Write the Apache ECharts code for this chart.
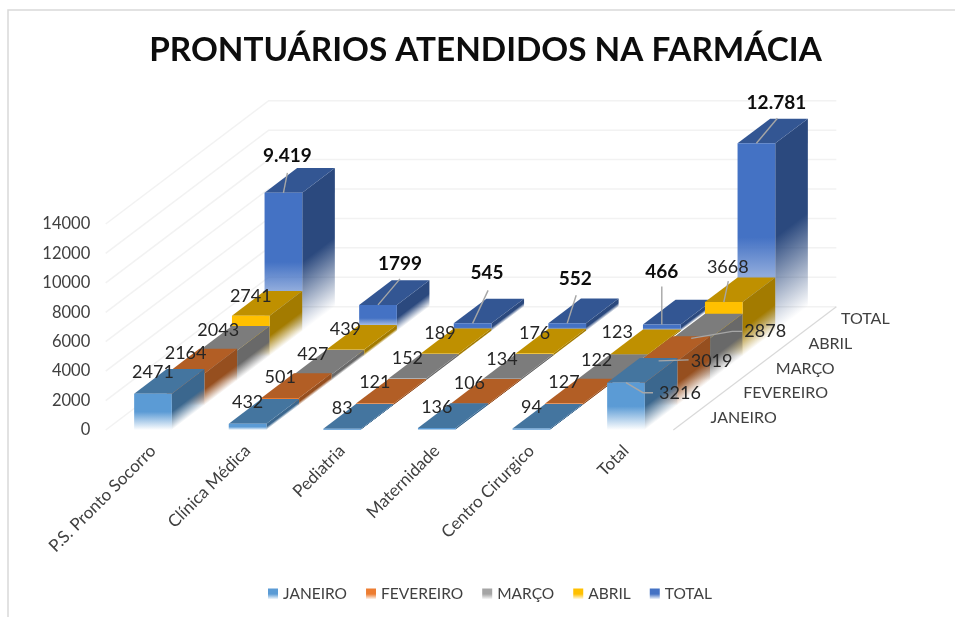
<!DOCTYPE html>
<html>
<head>
<meta charset="utf-8">
<style>html,body{margin:0;padding:0;background:#fff}#c{width:955px;height:617px}</style>
<script src="https://cdn.jsdelivr.net/npm/echarts@6/dist/echarts.min.js"></script>
</head>
<body>
<div id="c"></div>
<script>
// ---- data ----
const categories = ['P.S. Pronto Socorro', 'Clínica Médica', 'Pediatria', 'Maternidade', 'Centro Cirurgico', 'Total'];
const rowNames = ['JANEIRO', 'FEVEREIRO', 'MARÇO', 'ABRIL', 'TOTAL'];
const janeiro = [2471, 432, 83, 136, 94, 3216];
const fevereiro = [2164, 501, 121, 106, 127, 3019];
const marco = [2043, 427, 152, 134, 122, 2878];
const abril = [2741, 439, 189, 176, 123, 3668];
const total = [9419, 1799, 545, 552, 466, 12781];
const totalLabels = ['9.419', '1799', '545', '552', '466', '12.781'];
const yTicks = [0, 2000, 4000, 6000, 8000, 10000, 12000, 14000];

// ---- appearance ----
const FONT = 'Lato';
const DX = 32.6, DY = 24.66;           // oblique step of one depth row
const BAR = 0.3985;                    // bar width / category band
const palette = [
  { front: '#5b9bd5', top: '#44759f', side: '#3b678e' },
  { front: '#ed7d31', top: '#b25e25', side: '#964f1f' },
  { front: '#a5a5a5', top: '#7c7c7c', side: '#696969' },
  { front: '#ffc000', top: '#bf9000', side: '#a37b00' },
  { front: '#4472c4', top: '#335693', side: '#2b497e' }
];
const rows = [janeiro, fevereiro, marco, abril, total];
// label placement relative to the front-top centre of each bar: [dx, dy, leader points]
const D = [0, -21];
const placement = [
  [D, D, D, D, D, [54, 11, [[0, 0], [17, 10], [27, 10]]]],
  [[0, -20], D, D, D, D, [53, 0, [[0, 0], [30, -1]]]],
  [[0, -20], [0, -20], [0, -20], [0, -20], [0, -19], [74, -7, [[0, 0], [41, -7], [51, -7]]]],
  [[0, -20], [0, -20], [0, -20], [0, -20], [-12, -22], [4, -35, [[0, 0], [4.5, -21]]]],
  [[4, -37, [[0, 0], [4, -20]]], [22, -41, [[0, 0], [22, -26]]], [14.5, -50, [[0, 0], [15.5, -33]]],
   [8, -44, [[0, 0], [9, -28]]], [0, -53, [[0, 0], [0, -38]]], [20, -40, [[0, 0], [21, -25]]]]
];

function rgba(hex, a) {
  const n = parseInt(hex.slice(1), 16);
  return 'rgba(' + (n >> 16) + ',' + ((n >> 8) & 255) + ',' + (n & 255) + ',' + a + ')';
}
function fade(color, x, y, x2, y2, global) {
  return {
    type: 'linear', x, y, x2, y2, global: !!global,
    colorStops: [
      { offset: 0, color: color },
      { offset: 0.5, color: color },
      { offset: 1, color: rgba(color, 0) }
    ]
  };
}

function renderBar(row) {
  return function (params, api) {
    const c = api.value(0);
    const base = api.coord([c, 0]);
    const tip = api.coord([c, api.value(1)]);
    const w = api.size([1, 0])[0] * BAR;
    const ox = DX * row, oy = DY * row;
    const l = base[0] - w / 2 + ox, r = l + w;
    const t = tip[1] - oy, b = base[1] - oy;
    const h = b - t;
    const p = palette[row];
    const k = h / (DX * DX + DY * DY) * DX;
    return {
      type: 'group',
      children: [
        { type: 'polygon', shape: { points: [[r, t], [r + DX, t - DY], [r + DX, b - DY], [r, b]] },
          style: { fill: fade(p.side, r, t, r + DY * k, t + DX * k, true) } },
        { type: 'polygon', shape: { points: [[l, t], [r, t], [r + DX, t - DY], [l + DX, t - DY]] },
          style: { fill: p.top } },
        { type: 'rect', shape: { x: l, y: t, width: w, height: h },
          style: { fill: fade(p.front, 0, t, 0, b, true) } }
      ]
    };
  };
}

function renderWall(params, api) {
  const tick = api.value(1);
  const pt = api.coord([0, tick]);
  const band = api.size([1, 0])[0];
  const x0 = pt[0] - band / 2, y0 = pt[1];
  const depthX = DX * rowNames.length, depthY = DY * rowNames.length;
  const kids = [{
    type: 'polyline',
    shape: { points: [[x0, y0], [x0 + depthX, y0 - depthY], [x0 + depthX + band * categories.length, y0 - depthY]] },
    style: { fill: 'none', stroke: '#f2f2f2', lineWidth: 1.5 }
  }];
  if (tick === 0) {
    const xr = x0 + band * categories.length;
    kids.push({
      type: 'line',
      shape: { x1: xr, y1: y0, x2: xr + depthX, y2: y0 - depthY },
      style: { stroke: '#d9d9d9', lineWidth: 1.2 }
    });
  }
  return { type: 'group', children: kids };
}

function textEl(x, y, text, opt) {
  return {
    type: 'text', x, y,
    style: Object.assign({
      text, fontFamily: FONT, fontSize: 18, fill: '#262626',
      align: 'center', verticalAlign: 'middle'
    }, opt || {})
  };
}

function renderLabels(params, api) {
  const row = api.value(2), c = api.value(0);
  const base = api.coord([c, 0]);
  const tip = api.coord([c, api.value(1)]);
  const x = base[0] + DX * row, y = tip[1] - DY * row;
  const pl = placement[row][c];
  const kids = [];
  if (pl[2]) {
    kids.push({
      type: 'polyline',
      shape: { points: pl[2].map(q => [x + q[0], y + q[1]]) },
      style: { fill: 'none', stroke: '#a6a6a6', lineWidth: 1.4 }
    });
  }
  if (row === 4) {
    kids.push(textEl(x + pl[0], y + pl[1], totalLabels[c], { fontWeight: 'bold', fontSize: 19, fill: '#0d0d0d' }));
  } else {
    kids.push(textEl(x + pl[0], y + pl[1], String(api.value(1))));
  }
  return { type: 'group', children: kids };
}

function renderRowName(params, api) {
  const row = api.value(0);
  const pt = api.coord([0, 0]);
  const band = api.size([1, 0])[0];
  const xr = pt[0] - band / 2 + band * categories.length;
  return textEl(xr + DX * (row + 0.5) + 21, pt[1] - DY * (row + 0.5), rowNames[row],
    { align: 'left', fontSize: 16, fill: '#404040' });
}

const series = [{
  type: 'custom', name: '_wall', silent: true, z: 1,
  renderItem: renderWall,
  data: yTicks.map(t => [0, t]),
  encode: { x: 0, y: 1 }
}];
rows.forEach((vals, row) => {
  const p = palette[row];
  series.push({
    type: 'custom',
    name: rowNames[row],
    z: 20 - row,
    renderItem: renderBar(row),
    itemStyle: { color: fade(p.front, 0, 0, 0, 1) },
    data: vals.map((v, c) => [c, v]),
    encode: { x: 0, y: 1 }
  });
});
series.push({
  type: 'custom', name: '_labels', silent: true, z: 30,
  renderItem: renderLabels,
  data: rows.flatMap((vals, row) => vals.map((v, c) => [c, v, row])),
  encode: { x: 0, y: 1 }
});
series.push({
  type: 'custom', name: '_rows', silent: true, z: 30,
  renderItem: renderRowName,
  data: rowNames.map((n, i) => [i, 0]),
  encode: { y: 1 }
});

const chart = echarts.init(document.getElementById('c'), null, { renderer: 'canvas' });
chart.setOption({
  animation: false,
  backgroundColor: '#fff',
  title: {
    text: 'PRONTUÁRIOS ATENDIDOS NA FARMÁCIA',
    left: 480.5, top: 29, textAlign: 'center',
    textStyle: { fontFamily: FONT, fontWeight: 'bold', fontSize: 33.3, color: '#0d0d0d' }
  },
  legend: {
    data: rowNames,
    left: 263, top: 581,
    icon: 'rect', itemWidth: 10, itemHeight: 11, itemGap: 19,
    textStyle: { fontFamily: FONT, fontSize: 15.5, color: '#404040' }
  },
  grid: { left: 105.7, top: 224, width: 567.6, height: 206 },
  xAxis: {
    type: 'category', data: categories,
    axisLine: { show: false }, axisTick: { show: false }, splitLine: { show: false },
    axisLabel: { rotate: 45, interval: 0, margin: 18, fontFamily: FONT, fontSize: 17, color: '#404040' }
  },
  yAxis: {
    type: 'value', min: 0, max: 14000, interval: 2000,
    axisLine: { show: false }, axisTick: { show: false }, splitLine: { show: false },
    axisLabel: { margin: 15.5, padding: [2, 0, 0, 0], formatter: v => String(v), fontFamily: FONT, fontSize: 16.5, color: '#404040' }
  },
  graphic: [
    { type: 'polyline', silent: true, z: 0,
      shape: { points: [[8, 617], [8, 10], [955, 10]] },
      style: { fill: 'none', stroke: '#d9d9d9', lineWidth: 1.5 } }
  ],
  series
});
</script>
</body>
</html>
